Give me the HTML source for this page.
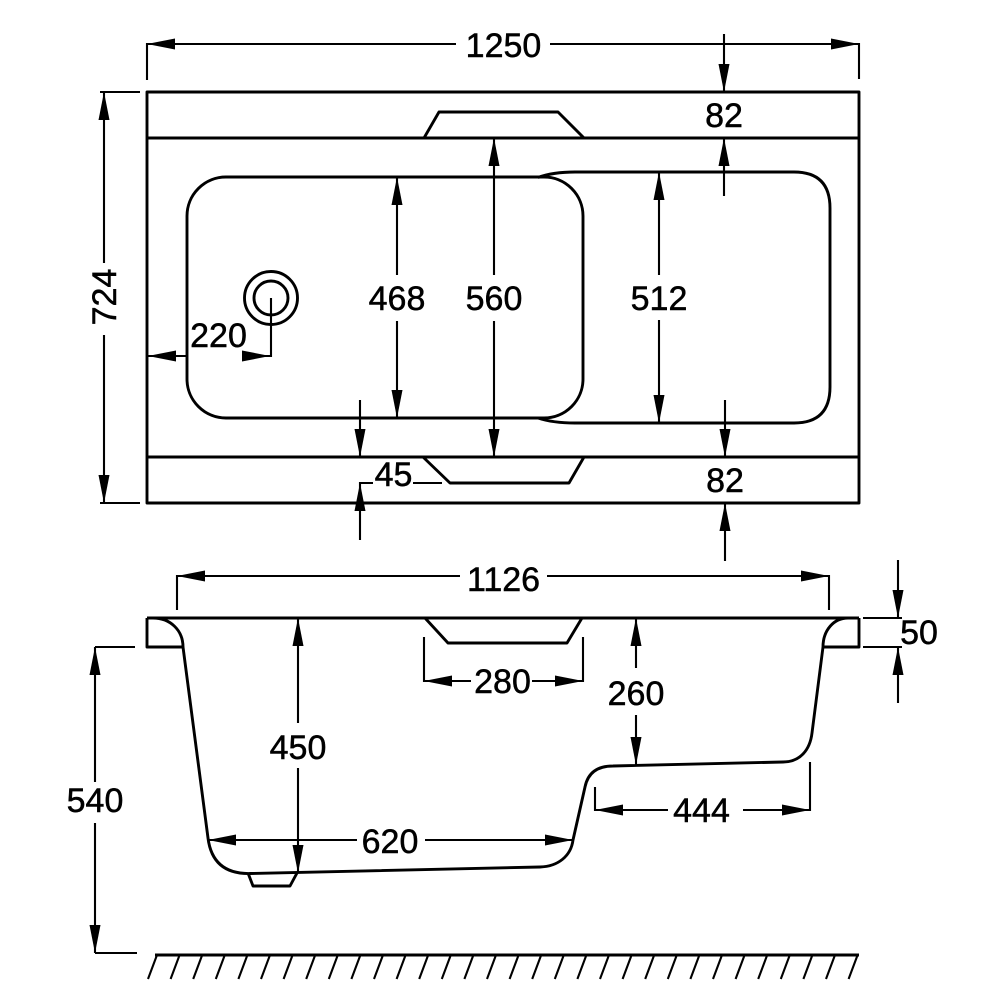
<!DOCTYPE html>
<html>
<head>
<meta charset="utf-8">
<style>
html,body{margin:0;padding:0;background:#fff;}
svg{display:block;}
text{font-family:"Liberation Sans",Arial,sans-serif;font-size:34px;fill:#000;stroke:#000;stroke-width:0.5;text-anchor:middle;}
</style>
</head>
<body>
<svg width="1005" height="1005" viewBox="0 0 1005 1005" xmlns="http://www.w3.org/2000/svg">
<rect width="1005" height="1005" fill="#fff"/>

<!-- ============ TOP VIEW ============ -->
<g fill="none" stroke="#000" stroke-width="2.9" stroke-linejoin="round">
  <rect x="147" y="92" width="712" height="411"/>
  <line x1="147" y1="138" x2="859" y2="138"/>
  <line x1="147" y1="457" x2="859" y2="457"/>
  <polyline points="424,138 439,112 558,112 584,138"/>
  <polyline points="423,457 450,483 569,483 584,457"/>
  <rect x="187" y="177" width="396" height="241" rx="39" ry="39"/>
  <path d="M538,177.5 Q553,172 575,172 L794,172 Q830,172 830,208 L830,387 Q830,423 794,423 L575,423 Q553,423 538,418"/>
  <circle cx="271" cy="298" r="26.5"/>
  <circle cx="271" cy="298" r="17"/>
</g>

<g fill="none" stroke="#000" stroke-width="2.1">
  <polyline points="147,80 147,44 456,44"/>
  <polyline points="550,44 859,44 859,79"/>
  <line x1="724" y1="34" x2="724" y2="92"/>
  <line x1="724" y1="138" x2="724" y2="196"/>
  <line x1="725" y1="400" x2="725" y2="457"/>
  <line x1="725" y1="503" x2="725" y2="561"/>
  <line x1="100" y1="92" x2="140" y2="92"/>
  <line x1="100" y1="503" x2="140" y2="503"/>
  <line x1="104" y1="92" x2="104" y2="263"/>
  <line x1="104" y1="335" x2="104" y2="503"/>
  <line x1="147" y1="356" x2="187" y2="356"/>
  <polyline points="271,298 271,356 242,356"/>
  <line x1="397" y1="177" x2="397" y2="275"/>
  <line x1="397" y1="321" x2="397" y2="418"/>
  <line x1="494" y1="138" x2="494" y2="275"/>
  <line x1="494" y1="321" x2="494" y2="457"/>
  <line x1="659" y1="172" x2="659" y2="275"/>
  <line x1="659" y1="320" x2="659" y2="423"/>
  <line x1="360" y1="400" x2="360" y2="457"/>
  <polyline points="360,540 360,483 373,483"/>
  <line x1="413" y1="483" x2="442" y2="483"/>
</g>

<!-- ============ SIDE VIEW ============ -->
<g fill="none" stroke="#000" stroke-width="2.9" stroke-linejoin="round">
  <line x1="147" y1="618" x2="859" y2="618"/>
  <polyline points="147,618 147,647 183,647"/>
  <polyline points="859,618 859,647 823,647"/>
  <path d="M153,618 C170,618 183,630 183,647 L208,838 C211,862 225,874 250,873.5 L540,867 C558,866.5 571,856 573,840 L585,787 C588,772 598,766 613,766 L783,762 C800,762 810,750 812,733 L823,647 C823,630 834,618 848,618"/>
  <polyline points="425,618 448,643 567,643 582,618"/>
  <polyline points="248,873 253,886 290,886 297,873"/>
  <line x1="155" y1="955" x2="859" y2="955"/>
</g>
<path fill="none" stroke="#000" stroke-width="2.1" d="M157,955l-9,24M179.6,955l-9,24M202.2,955l-9,24M224.8,955l-9,24M247.4,955l-9,24M270,955l-9,24M292.6,955l-9,24M315.2,955l-9,24M337.8,955l-9,24M360.4,955l-9,24M383,955l-9,24M405.6,955l-9,24M428.2,955l-9,24M450.8,955l-9,24M473.4,955l-9,24M496,955l-9,24M518.6,955l-9,24M541.2,955l-9,24M563.8,955l-9,24M586.4,955l-9,24M609,955l-9,24M631.6,955l-9,24M654.2,955l-9,24M676.8,955l-9,24M699.4,955l-9,24M722,955l-9,24M744.6,955l-9,24M767.2,955l-9,24M789.8,955l-9,24M812.4,955l-9,24M835,955l-9,24M857.6,955l-9,24"/>

<g fill="none" stroke="#000" stroke-width="2.1">
  <polyline points="177,610 177,576 460,576"/>
  <polyline points="547,576 829,576 829,610"/>
  <line x1="863" y1="618" x2="902" y2="618"/>
  <line x1="863" y1="647" x2="902" y2="647"/>
  <line x1="898" y1="560" x2="898" y2="618"/>
  <line x1="898" y1="647" x2="898" y2="703"/>
  <polyline points="424,637 424,681 471,681"/>
  <polyline points="532,681 583,681 583,637"/>
  <line x1="298" y1="618" x2="298" y2="723"/>
  <line x1="298" y1="768" x2="298" y2="873"/>
  <line x1="636" y1="618" x2="636" y2="668"/>
  <line x1="636" y1="715" x2="636" y2="765"/>
  <line x1="208" y1="840" x2="357" y2="840"/>
  <line x1="425" y1="840" x2="573" y2="840"/>
  <polyline points="595,787 595,810 668,810"/>
  <polyline points="743,810 810,810 810,762"/>
  <line x1="95" y1="647" x2="135" y2="647"/>
  <line x1="95" y1="953" x2="137" y2="953"/>
  <line x1="95" y1="647" x2="95" y2="782"/>
  <line x1="95" y1="823" x2="95" y2="953"/>
</g>

<g fill="#000" stroke="none">
  <polygon points="147,44 175,38.5 175,49.5"/>
  <polygon points="859,44 831,38.5 831,49.5"/>
  <polygon points="724,92 718.5,64 729.5,64"/>
  <polygon points="724,138 718.5,166 729.5,166"/>
  <polygon points="725,457 719.5,429 730.5,429"/>
  <polygon points="725,503 719.5,531 730.5,531"/>
  <polygon points="104,92 98.5,120 109.5,120"/>
  <polygon points="104,503 98.5,475 109.5,475"/>
  <polygon points="148,356 176,350.5 176,361.5"/>
  <polygon points="270,356 242,350.5 242,361.5"/>
  <polygon points="397,177 391.5,205 402.5,205"/>
  <polygon points="397,418 391.5,390 402.5,390"/>
  <polygon points="494,138 488.5,166 499.5,166"/>
  <polygon points="494,457 488.5,429 499.5,429"/>
  <polygon points="659,172 653.5,200 664.5,200"/>
  <polygon points="659,423 653.5,395 664.5,395"/>
  <polygon points="360,457 354.5,429 365.5,429"/>
  <polygon points="360,483 354.5,511 365.5,511"/>
  <polygon points="177,576 205,570.5 205,581.5"/>
  <polygon points="829,576 801,570.5 801,581.5"/>
  <polygon points="898,618 892.5,590 903.5,590"/>
  <polygon points="898,647 892.5,675 903.5,675"/>
  <polygon points="424,681 452,675.5 452,686.5"/>
  <polygon points="583,681 555,675.5 555,686.5"/>
  <polygon points="298,618 292.5,646 303.5,646"/>
  <polygon points="298,873 292.5,845 303.5,845"/>
  <polygon points="636,618 630.5,646 641.5,646"/>
  <polygon points="636,765 630.5,737 641.5,737"/>
  <polygon points="208,840 236,834.5 236,845.5"/>
  <polygon points="573,840 545,834.5 545,845.5"/>
  <polygon points="595,810 623,804.5 623,815.5"/>
  <polygon points="810,810 782,804.5 782,815.5"/>
  <polygon points="95,647 89.5,675 100.5,675"/>
  <polygon points="95,953 89.5,925 100.5,925"/>
</g>

<text x="503.5" y="57">1250</text>
<text x="724" y="127">82</text>
<text x="725" y="492">82</text>
<text x="0" y="0" transform="translate(116,297) rotate(-90)">724</text>
<text x="218.5" y="347">220</text>
<text x="397" y="310">468</text>
<text x="494" y="310">560</text>
<text x="659" y="310">512</text>
<text x="393.5" y="486">45</text>
<text x="503.5" y="591">1126</text>
<text x="919" y="644">50</text>
<text x="502.5" y="693">280</text>
<text x="636" y="705">260</text>
<text x="298" y="759">450</text>
<text x="95" y="812">540</text>
<text x="390" y="853">620</text>
<text x="701.5" y="822">444</text>
</svg>
</body>
</html>
